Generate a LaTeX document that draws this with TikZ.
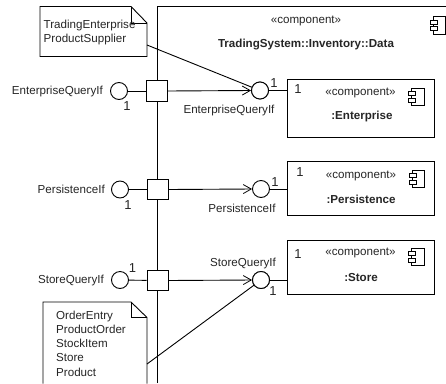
\documentclass[tikz,border=0pt]{standalone}
\usepackage{fontspec}
\setmainfont{Liberation Sans}
\usetikzlibrary{arrows.meta}
\tikzset{
  x=1pt,y=-1pt,
  ln/.style={draw=black,line width=0.9pt,line join=miter},
  txt/.style={inner sep=0pt,yshift=-1.2pt,font=\fontsize{11.6pt}{14pt}\selectfont,text=black!85},
  bold/.style={txt,font=\fontsize{11.6pt}{14pt}\selectfont\bfseries},
  mult/.style={inner sep=0pt,font=\fontsize{13pt}{14pt}\selectfont,text=black!85},
  portbox/.style={ln,fill=white,minimum width=21pt,minimum height=20.5pt,inner sep=0pt},
  ball/.style={ln,circle,fill=white,minimum size=17pt,inner sep=0pt},
  comp/.style={ln,fill=white,inner sep=0pt,minimum width=147pt},
  vee/.style={-{Straight Barb[length=8pt,width=9pt,line width=0.8pt]}},
  notetxt/.style={txt,align=left,anchor=north west}
}
\newcommand{\compicon}[2]{%
  \draw[ln] (#1+3,#2) rectangle (#1+15.5,#2+17.5);
  \draw[ln,fill=white] (#1,#2+3.5) rectangle (#1+7,#2+7.5);
  \draw[ln,fill=white] (#1,#2+10) rectangle (#1+7,#2+14);
}
\begin{document}
\begin{tikzpicture}
\useasboundingbox (0,0) rectangle (446,383);
\fill[white] (0,0) rectangle (446,383);
% outer component
\draw[ln] (157.5,383) -- (157.5,6.5) -- (446,6.5);
\node[txt] (ostereo) at (306,19.5) {«component»};
\node[bold] (otitle) at (306,43) {TradingSystem::Inventory::Data};
\compicon{430}{16.5}
% inner components
\node[comp,minimum height=58pt] (ent) at (360.5,108) {};
\node[comp,minimum height=54pt] (per) at (360.5,188.5) {};
\node[comp,minimum height=54pt] (sto) at (360.5,267) {};
\node[txt] at (360.5,92) {«component»};
\node[bold] at (362,115) {:Enterprise};
\node[txt] at (361,174.5) {«component»};
\node[bold] at (361,198) {:Persistence};
\node[txt] at (360.5,252) {«component»};
\node[bold] at (361,276) {:Store};
\compicon{408.5}{88}
\compicon{409}{170}
\compicon{408.5}{248}
\node[mult] at (298,89) {1};
\node[mult] at (300,172) {1};
\node[mult] at (298,254) {1};
% ports
\node[portbox] (p1) at (156.5,91) {};
\node[portbox] (p2) at (157.5,189.5) {};
\node[portbox] (p3) at (157.5,280.5) {};
% balls
\node[ball] (l1) at (119,91) {};
\node[ball] (l2) at (120,189.5) {};
\node[ball] (l3) at (120,280) {};
\node[ball] (r1) at (260,90.5) {};
\node[ball] (r2) at (261,189) {};
\node[ball] (r3) at (261,280) {};
% connectors
\draw[ln] (l1) -- (p1);
\draw[ln] (l2) -- (p2);
\draw[ln] (l3) -- (p3);
\draw[ln,vee] (p1.east) -- (r1.west);
\draw[ln,vee] (p2.east) -- (r2.west);
\draw[ln,vee] (p3.east) -- (r3.west);
\draw[ln] (r1) -- (ent.west |- r1);
\draw[ln] (r2) -- (per.west |- r2);
\draw[ln] (r3) -- (sto.west |- r3);
% labels
\node[txt,anchor=east] at (103,90) {EnterpriseQueryIf};
\node[txt,anchor=east] at (105,188) {PersistenceIf};
\node[txt,anchor=east] at (104,279) {StoreQueryIf};
\node[txt] at (229,109) {EnterpriseQueryIf};
\node[txt] at (242,207) {PersistenceIf};
\node[txt] at (243,262) {StoreQueryIf};
\node[mult] at (127,106) {1};
\node[mult] at (128,205) {1};
\node[mult] at (132.5,268) {1};
\node[mult] at (274,83) {1};
\node[mult] at (275,182) {1};
\node[mult] at (273,291) {1};
% notes
\draw[ln,fill=white] (40,6.5) -- (131,6.5) -- (147,23) -- (147,56.5) -- (40,56.5) -- cycle;
\draw[ln] (131,6.5) -- (131,23) -- (147,23);
\node[notetxt] at (43.5,19) {TradingEnterprise\\ProductSupplier};
\coordinate (n2a) at (147,364);
\coordinate (n1a) at (147,45);
\draw[ln,fill=white] (147,383.5) -- (147,317.5) -- (131,302) -- (43,302) -- (43,383.5);
\draw[ln] (131,302) -- (131,317.5) -- (147,317.5);
\node[txt,align=left,anchor=north west] at (56,309.3) {OrderEntry\\ProductOrder\\StockItem\\Store\\[1pt]Product};
\draw[ln] (n1a) -- (r1);
\draw[ln] (n2a) -- (r3);
\node[ball] at (260,90.5) {};
\node[ball] at (261,280) {};
\end{tikzpicture}
\end{document}
